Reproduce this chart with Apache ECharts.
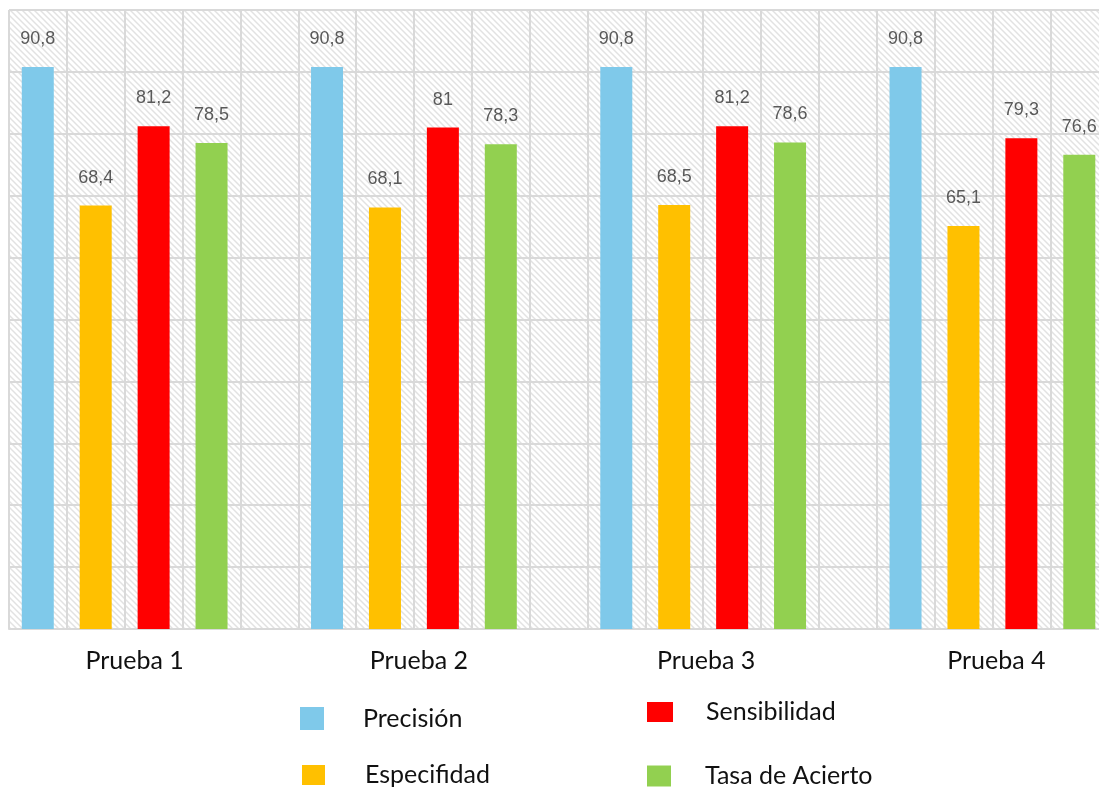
<!DOCTYPE html>
<html>
<head>
<meta charset="utf-8">
<script src="https://cdn.jsdelivr.net/npm/echarts@6/dist/echarts.min.js"></script>
<style>
  html, body { margin: 0; padding: 0; background: #ffffff; }
  #chart { width: 1099px; height: 787px; }
</style>
</head>
<body>
<div id="chart"></div>
<script>
// Test runs and the four metrics measured for each one
const categories = ['Prueba 1', 'Prueba 2', 'Prueba 3', 'Prueba 4'];
const precision    = [90.8, 90.8, 90.8, 90.8];
const especifidad  = [68.4, 68.1, 68.5, 65.1];
const sensibilidad = [81.2, 81.0, 81.2, 79.3];
const tasaAcierto  = [78.5, 78.3, 78.6, 76.6];
const seriesNames  = ['Precisión', 'Especifidad', 'Sensibilidad', 'Tasa de Acierto'];
const seriesColors = ['#7fc9ea', '#ffc000', '#ff0000', '#92d050'];

// Horizontal shift of each category caption (padding on the right pulls it left)
const labelShift = [38, 48, 52, 50];

// Diagonal hatch tile for the plot background
function hatchTile() {
  const c = document.createElement('canvas');
  c.width = 6; c.height = 6;
  const g = c.getContext('2d');
  g.fillStyle = '#ffffff';
  g.fillRect(0, 0, 6, 6);
  g.strokeStyle = '#e2e2e2';
  g.lineWidth = 1.5;
  [-6, 0, 6].forEach(function (k) {
    g.beginPath();
    g.moveTo(k - 1, -1);
    g.lineTo(k + 7, 7);
    g.stroke();
  });
  return c;
}

const gridLine = { color: '#d9d9d9', width: 2 };
const valueLabel = {
  show: true,
  position: 'top',
  distance: 19,
  color: '#595959',
  fontFamily: 'Liberation Sans, Arial, sans-serif',
  fontSize: 18,
  formatter: function (p) { return String(p.value).replace('.', ','); }
};

const values = [precision, especifidad, sensibilidad, tasaAcierto];
const barSeries = values.map(function (arr, i) {
  return {
    name: seriesNames[i],
    type: 'bar',
    xAxisIndex: 0,
    yAxisIndex: 0,
    barWidth: 32,
    barGap: '81%',
    itemStyle: { color: seriesColors[i] },
    label: valueLabel,
    data: arr
  };
});
// empty fifth slot in every group
barSeries.push({
  name: 'spacer',
  type: 'bar',
  xAxisIndex: 0,
  yAxisIndex: 0,
  barWidth: 32,
  barGap: '81%',
  silent: true,
  data: categories.map(function () { return '-'; })
});

const legendFont = {
  fontFamily: 'Lato, sans-serif',
  fontSize: 25,
  lineHeight: 26,
  color: '#111111'
};
// padBottom lifts the caption relative to its swatch
function legendAt(name, left, top, w, h, gap, padBottom) {
  return {
    data: [name],
    left: left,
    top: top,
    icon: 'rect',
    itemWidth: w,
    itemHeight: h,
    padding: 0,
    selectedMode: false,
    textStyle: Object.assign({ padding: [0, 0, padBottom, gap] }, legendFont)
  };
}

const chart = echarts.init(document.getElementById('chart'), null, { renderer: 'canvas' });
chart.setOption({
  backgroundColor: '#ffffff',
  animation: false,
  grid: {
    left: 9,
    top: 10,
    width: 1157,
    bottom: 158,
    outerBoundsMode: 'none',
    containLabel: false,
    show: true,
    borderWidth: 0,
    backgroundColor: { image: hatchTile(), repeat: 'repeat' }
  },
  legend: [
    legendAt('Precisión', 300, 701, 24, 23, 34, 9),
    legendAt('Especifidad', 302, 762, 23, 20, 35, 0),
    legendAt('Sensibilidad', 647, 695, 26, 20, 28, 8),
    legendAt('Tasa de Acierto', 647, 763, 24, 21, 29, 0)
  ],
  xAxis: [
    {
      type: 'category',
      data: categories.map(function (c, i) {
        return { value: c, textStyle: { padding: [0, labelShift[i], 0, 0] } };
      }),
      axisLine: { show: true, lineStyle: gridLine },
      axisTick: { show: false },
      axisLabel: {
        margin: 19,
        fontFamily: 'Lato, sans-serif',
        fontSize: 25,
        lineHeight: 26,
        color: '#111111'
      },
      splitLine: { show: false }
    },
    {
      // slot boundaries drawn as vertical rules
      type: 'value',
      min: 0,
      max: 20,
      interval: 1,
      position: 'bottom',
      axisLine: { show: false },
      axisTick: { show: false },
      axisLabel: { show: false },
      splitLine: { show: true, lineStyle: gridLine }
    }
  ],
  yAxis: {
    type: 'value',
    min: 0,
    max: 100,
    interval: 10,
    axisLine: { show: false },
    axisTick: { show: false },
    axisLabel: { show: false },
    splitLine: { show: true, lineStyle: gridLine }
  },
  series: barSeries
});
</script>
</body>
</html>
